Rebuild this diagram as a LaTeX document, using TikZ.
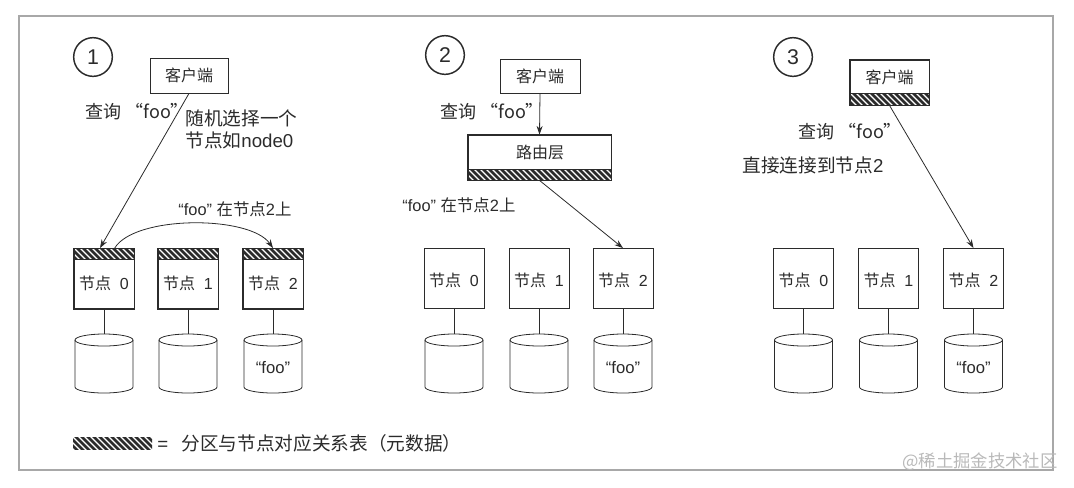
\documentclass[tikz,border=0pt]{standalone}
\usepackage{fontspec}
\setmainfont{Liberation Sans}
\newfontfamily\cjk{Noto Sans CJK SC}
\usetikzlibrary{arrows.meta}
\definecolor{ink}{HTML}{2B2B2B}
\definecolor{framec}{HTML}{A8A8A8}
\newcommand\hatchband[4]{%
  \begin{scope}
    \clip (#1,#2) rectangle (#3,#4);
    \foreach \i in {0,6,...,168} \draw[line width=2pt,ink] (#1+\i-18,#2-3) -- ++(20,20);
  \end{scope}}
% name, cx, label, label y, hatched (1/0)
\newcommand\nbox[5]{%
  \node[box] (#1) at (#2,278.5) {};
  \ifnum#5=1
    \hatchband{#2-30}{248}{#2+30}{259}
    \draw ([yshift=-8.25pt]#1.north west) -- ([yshift=-8.25pt]#1.north east);
    \draw (#1.north west) rectangle (#1.south east);
  \fi
  \node[lbl] (#1t) at (#2,#4) {#3};}
% name, cx, text
\newcommand\cyl[3]{%
  \node[inner sep=0pt, minimum width=43.5pt, minimum height=44.25pt] (#1) at (#2,363.5) {};
  \draw[fill=white] (#2-29,340) -- (#2-29,387) arc[start angle=180,end angle=360,x radius=21.75pt,y radius=4.5pt] -- (#2+29,340);
  \draw (#2,340) ellipse[x radius=21.75pt,y radius=4.5pt];
  \node[inner sep=0pt, font=\fontsize{12.5}{14}\selectfont] (#1t) at (#2,368) {#3};}
\begin{document}
\begin{tikzpicture}[x=0.75pt,y=-0.75pt, line width=0.6pt, color=ink,
  box/.style={draw, fill=white, inner sep=0pt, minimum width=45pt, minimum height=45pt},
  lbl/.style={inner sep=0pt, font=\fontsize{12}{13}\selectfont},
  txt/.style={inner sep=0pt, font=\fontsize{13.5}{16.5}\selectfont},
  big/.style={inner sep=0pt, font=\fontsize{14}{16.5}\selectfont},
  small/.style={inner sep=0pt, font=\fontsize{12.3}{15}\selectfont},
  arr/.style={-{Stealth[length=6.5pt,width=4.5pt]}},
  num/.style={draw, circle, line width=1.1pt, minimum size=29pt, inner sep=0pt, font=\fontsize{16}{18}\selectfont}]
\useasboundingbox (0,0) rectangle (1074,487);
\draw[framec, line width=1.2pt] (19,16) rectangle (1053,470);

% ---------- panel 1
\node[num] (k1) at (93,57) {1};
\node[box, lbl, minimum width=58.5pt, minimum height=26.25pt] (c1) at (189,75.5) {\cjk 客户端};
\node[txt, anchor=west] (q1) at (85,112) {\cjk 查询 “foo”};
\node[big, anchor=west, align=left] (r1) at (185,129) {{\cjk 随机选择一个}\\{\cjk 节点如}node0};
\node[small, anchor=west] (f1) at (178,209) {“foo” {\cjk 在节点}2{\cjk 上}};
\nbox{n10}{104}{{\cjk 节点}\hspace{0.55em}0}{283}{1}
\nbox{n11}{188}{{\cjk 节点}\hspace{0.55em}1}{283}{1}
\nbox{n12}{273}{{\cjk 节点}\hspace{0.55em}2}{283}{1}
\cyl{d10}{104}{}
\cyl{d11}{188}{}
\cyl{d12}{273}{“foo”}
\draw (n10.south) -- (d10.north);
\draw (n11.south) -- (d11.north);
\draw (n12.south) -- (d12.north);
\draw[arr] (c1.south) -- ([xshift=-3pt]n10.north);
\draw[arr] ([xshift=8pt]n10.north) .. controls +(20,-33) and +(-23,-33) .. (n12.north);

% ---------- panel 2
\node[num] (k2) at (445,55) {2};
\node[box, lbl, minimum width=60pt, minimum height=25.5pt] (c2) at (540,76) {\cjk 客户端};
\node[box, minimum width=107.25pt, minimum height=33.75pt] (r) at (539.5,157.5) {};
\hatchband{468}{169}{611}{180}
\draw ([yshift=8.25pt]r.south west) -- ([yshift=8.25pt]r.south east);
\draw (r.north west) rectangle (r.south east);
\node[lbl] (rt) at (540,152) {\cjk 路由层};
\node[txt, anchor=west] (q2) at (440,112) {\cjk 查询 “foo”};
\node[small, anchor=west] (f2) at (402,205) {“foo” {\cjk 在节点}2{\cjk 上}};
\nbox{n20}{454}{{\cjk 节点}\hspace{0.55em}0}{280}{0}
\nbox{n21}{539}{{\cjk 节点}\hspace{0.55em}1}{280}{0}
\nbox{n22}{623}{{\cjk 节点}\hspace{0.55em}2}{280}{0}
\cyl{d20}{454}{}
\cyl{d21}{539}{}
\cyl{d22}{623}{“foo”}
\draw (n20.south) -- (d20.north);
\draw (n21.south) -- (d21.north);
\draw (n22.south) -- (d22.north);
\draw[arr] (c2.south) -- (r.north);
\draw[arr] (r.south) -- (n22.north);

% ---------- panel 3
\node[num] (k3) at (793,57) {3};
\node[box, minimum width=59.25pt, minimum height=33.75pt] (c3) at (889.5,82.5) {};
\hatchband{850}{93}{929}{105}
\draw ([yshift=9pt]c3.south west) -- ([yshift=9pt]c3.south east);
\draw (c3.north west) rectangle (c3.south east);
\node[lbl] (c3t) at (889.5,77) {\cjk 客户端};
\node[txt, anchor=west] (q3) at (798,132) {\cjk 查询 “foo”};
\node[big, anchor=west] (g3) at (742,165) {{\cjk 直接连接到节点}2};
\nbox{n30}{803.5}{{\cjk 节点}\hspace{0.55em}0}{280}{0}
\nbox{n31}{888.5}{{\cjk 节点}\hspace{0.55em}1}{280}{0}
\nbox{n32}{973.5}{{\cjk 节点}\hspace{0.55em}2}{280}{0}
\cyl{d30}{803.5}{}
\cyl{d31}{888.5}{}
\cyl{d32}{973.5}{“foo”}
\draw (n30.south) -- (d30.north);
\draw (n31.south) -- (d31.north);
\draw (n32.south) -- (d32.north);
\draw[arr] (c3.south) -- (n32.north);

% ---------- legend
\hatchband{73}{437}{152}{449}
\node[inner sep=0pt, anchor=west, font=\fontsize{14}{16}\selectfont] (leg) at (157,443) {=\hspace{0.7em}{\cjk 分区与节点对应关系表（元数据）}};
\node[inner sep=0pt, anchor=east, text=gray!55, font=\fontsize{13}{15}\selectfont] (wm) at (1058,462) {\cjk @稀土掘金技术社区};
\end{tikzpicture}
\end{document}
